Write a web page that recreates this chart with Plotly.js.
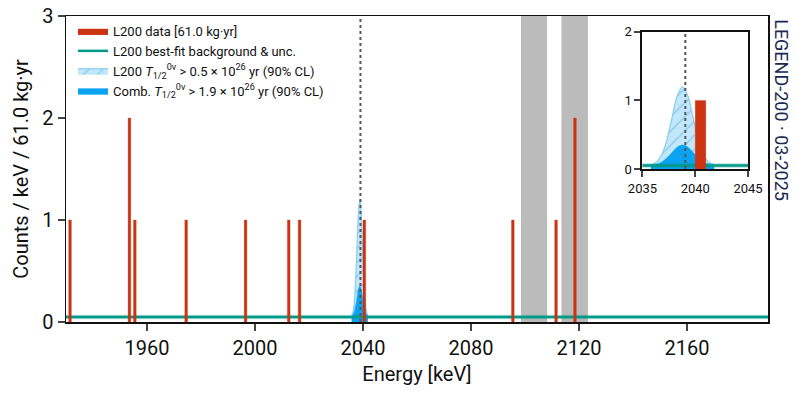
<!DOCTYPE html>
<html>
<head>
<meta charset="utf-8">
<script src="https://cdn.plot.ly/plotly-3.0.1.min.js"></script>
<style>html,body{margin:0;padding:0;background:#fff;}#chart{width:795px;height:398px;}</style>
</head>
<body>
<div id="chart"></div>
<script>
// ---- data ----
const binLow = [1931, 1953, 1955, 1974, 1996, 2012, 2016, 2040, 2095, 2111, 2118];
const counts = [1, 2, 1, 1, 1, 1, 1, 1, 1, 1, 2];
const binWidth = 1;

const bgEnergy = [1930, 2190];
const bgLevel = [0.05, 0.05];

const sigEnergy = [2035.8, 2036.3, 2036.8, 2037.3, 2037.8, 2038.3, 2038.8, 2039.3, 2039.8, 2040.3, 2040.8, 2041.3, 2041.8];
const sigL200 = [0.06, 0.1, 0.2, 0.42, 0.75, 1.07, 1.2, 1.07, 0.75, 0.42, 0.2, 0.1, 0.06];
const sigComb = [0.055, 0.07, 0.1, 0.16, 0.24, 0.32, 0.35, 0.32, 0.24, 0.16, 0.1, 0.07, 0.055];

const excludedLo = [2098.5, 2113.5];
const excludedHi = [2108.2, 2123.3];
const Qbb = 2039.06;

const xTicks = [1960, 2000, 2040, 2080, 2120, 2160];
const yTicks = [0, 1, 2, 3];
const insetXTicks = [2035, 2040, 2045];
const insetYTicks = [0, 1, 2];

// ---- build traces ----
const RED = '#CC3311', TEAL = '#009988', BLUE = '#0AA3F2';
function barPath() {
  const xs = [], ys = [];
  binLow.forEach((b, i) => {
    xs.push(b, b, b + binWidth, b + binWidth, null);
    ys.push(0, counts[i], counts[i], 0, null);
  });
  return {xs, ys};
}
const bp = barPath();

function makeTraces(xa, ya, legend) {
  return [
    {x: sigEnergy, y: sigL200, xaxis: xa, yaxis: ya, type: 'scatter', mode: 'lines',
     line: {color: '#86CFF2', width: 1.2, shape: 'spline'}, fill: 'tozeroy',
     fillcolor: 'rgba(185,226,248,0.95)',
     fillpattern: {shape: '/', fgcolor: '#86c9ec', bgcolor: 'rgba(190,228,249,0.95)', size: 10, solidity: 0.12},
     name: 'L200 <i>T</i><sub>1/2</sub><sup>0ν</sup> > 0.5 × 10<sup>26</sup> yr (90% CL)',
     showlegend: legend, legendrank: 3, hoverinfo: 'skip'},
    {x: sigEnergy, y: sigComb, xaxis: xa, yaxis: ya, type: 'scatter', mode: 'lines',
     line: {color: BLUE, width: 0.5, shape: 'spline'}, fill: 'tozeroy', fillcolor: BLUE,
     name: 'Comb. <i>T</i><sub>1/2</sub><sup>0ν</sup> > 1.9 × 10<sup>26</sup> yr (90% CL)',
     showlegend: legend, legendrank: 4, hoverinfo: 'skip'},
    {x: bgEnergy, y: bgLevel, xaxis: xa, yaxis: ya, type: 'scatter', mode: 'lines',
     line: {color: 'rgba(0,153,136,0.3)', width: 4.5}, showlegend: false, hoverinfo: 'skip'},
    {x: bgEnergy, y: bgLevel, xaxis: xa, yaxis: ya, type: 'scatter', mode: 'lines',
     line: {color: TEAL, width: 2.5}, name: 'L200 best-fit background & unc.',
     showlegend: legend, legendrank: 2, hoverinfo: 'skip'},
    {x: bp.xs, y: bp.ys, xaxis: xa, yaxis: ya, type: 'scatter', mode: 'lines',
     line: {color: RED, width: 0.3}, fill: 'toself', fillcolor: RED,
     name: 'L200 data [61.0 kg·yr]', showlegend: legend, legendrank: 1, hoverinfo: 'skip'}
  ];
}
const traces = makeTraces('x', 'y', true).concat(makeTraces('x2', 'y2', false));

const shapes = [];
excludedLo.forEach((lo, i) => {
  shapes.push({type: 'rect', xref: 'x', yref: 'y domain', x0: lo, x1: excludedHi[i], y0: 0, y1: 1,
    fillcolor: '#BBBBBB', line: {width: 0}, layer: 'below'});
});
shapes.push({type: 'line', xref: 'x', yref: 'y domain', x0: Qbb, x1: Qbb, y0: 0, y1: 1,
  line: {color: '#555', width: 2, dash: 'dot'}});
shapes.push({type: 'line', xref: 'x2', yref: 'y2 domain', x0: Qbb, x1: Qbb, y0: 0, y1: 1,
  line: {color: '#555', width: 2, dash: 'dot'}});

const FONT = 'Roboto, "DejaVu Sans", sans-serif';
const layout = {
  width: 795, height: 398,
  margin: {l: 66, r: 27, t: 16, b: 76},
  paper_bgcolor: '#fff', plot_bgcolor: 'rgba(0,0,0,0)',
  font: {family: FONT, color: '#111', size: 20},
  showlegend: true,
  legend: {x: 0.01, y: 1.0, xanchor: 'left', yanchor: 'top', bgcolor: 'rgba(255,255,255,0)',
    font: {size: 13, family: FONT}, itemwidth: 30, tracegroupgap: 0, traceorder: 'normal'},
  xaxis: {domain: [0, 1], range: [1930, 2190], tickvals: xTicks, ticks: 'outside', ticklen: 7, tickwidth: 1.5,
    showline: true, linewidth: 1.5, linecolor: '#111', mirror: true, showgrid: false, zeroline: false,
    tickfont: {size: 20}, title: {text: 'Energy [keV]', font: {size: 20}, standoff: 8}},
  yaxis: {domain: [0, 1], range: [0, 3], tickvals: yTicks, ticks: 'outside', ticklen: 7, tickwidth: 1.5,
    showline: true, linewidth: 1.5, linecolor: '#111', mirror: true, showgrid: false, zeroline: false,
    tickfont: {size: 20}, title: {text: 'Counts / keV / 61.0 kg·yr', font: {size: 20}, standoff: 8}},
  xaxis2: {domain: [0.8212, 0.9715], anchor: 'y2', range: [2035, 2045], tickvals: insetXTicks,
    ticks: 'outside', ticklen: 6, tickwidth: 2, showline: true, linewidth: 2, linecolor: '#111', mirror: true,
    showgrid: false, zeroline: false, tickfont: {size: 13}},
  yaxis2: {domain: [0.5, 0.948], anchor: 'x2', range: [0, 2], tickvals: insetYTicks,
    ticks: 'outside', ticklen: 6, tickwidth: 2, showline: true, linewidth: 2, linecolor: '#111', mirror: true,
    showgrid: false, zeroline: false, tickfont: {size: 13}},
  shapes: shapes,
  annotations: [{xref: 'paper', yref: 'paper', x: 1.02, y: 0.996, xanchor: 'center', yanchor: 'top',
    text: 'LEGEND-200 · 03-2025', textangle: 90, showarrow: false,
    font: {size: 18, family: FONT, color: '#1B2A55'}}]
};

Plotly.newPlot('chart', traces, layout, {displayModeBar: false, staticPlot: true});
</script>
</body>
</html>
